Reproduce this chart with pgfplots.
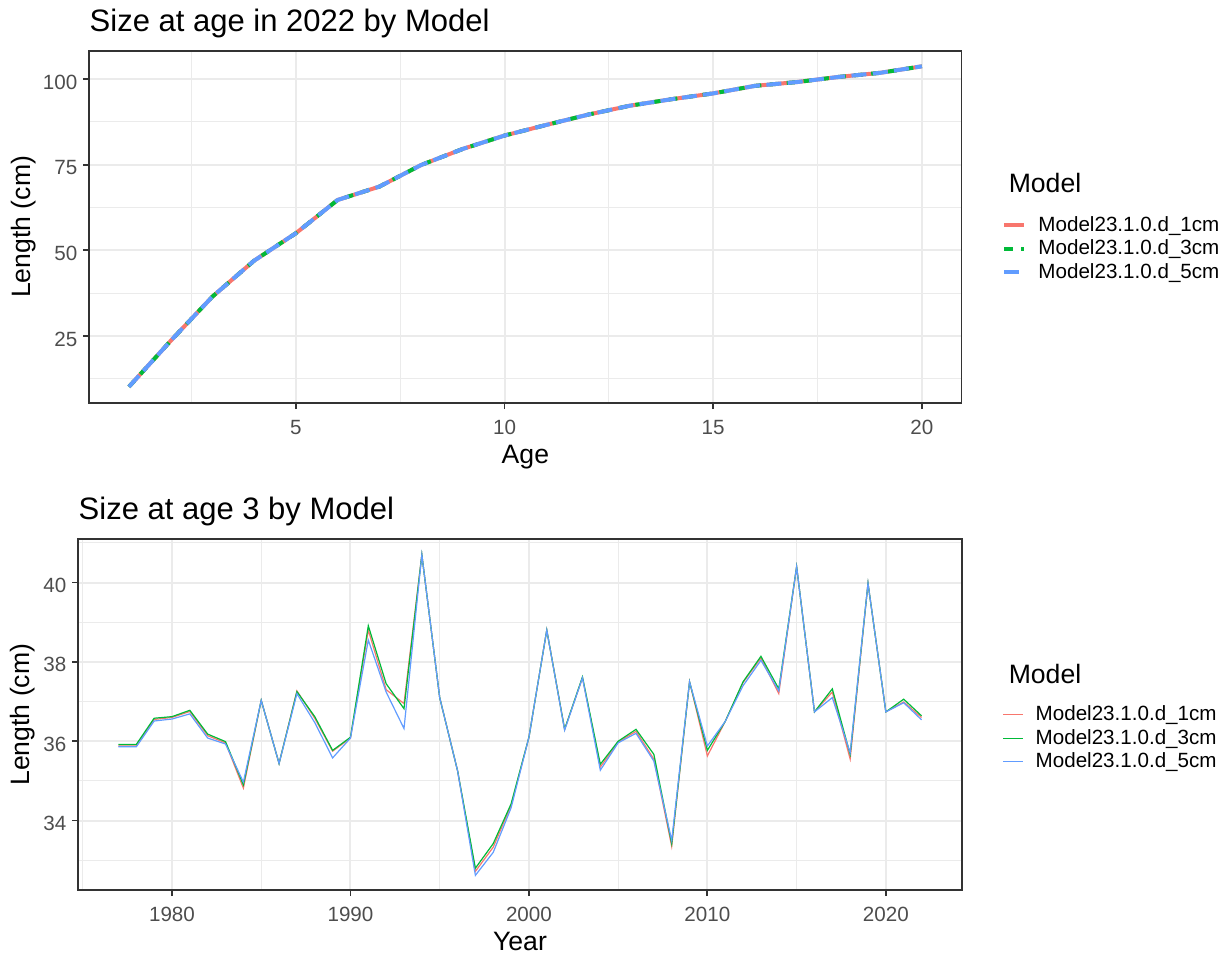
\documentclass[border=0pt]{standalone}
\usepackage{fontspec}
\setmainfont{Liberation Sans}
\usepackage{pgfplots}
\usepackage{pgfplotstable}
\pgfplotsset{compat=1.18}
\definecolor{c1}{HTML}{F8766D}
\definecolor{c2}{HTML}{00BA38}
\definecolor{c3}{HTML}{619CFF}
\definecolor{gridc}{HTML}{EBEBEB}
\definecolor{axc}{HTML}{333333}
\definecolor{tickc}{HTML}{4D4D4D}

\pgfplotstableread{
age m1 m3 m5
1 10.2 10.2 10.2
2 23.6 23.6 23.6
3 36.5 36.5 36.5
4 47.0 47.0 47.0
5 55.0 55.0 55.0
6 64.7 64.7 64.7
7 68.6 68.6 68.6
8 74.9 74.9 74.9
9 79.6 79.6 79.6
10 83.5 83.5 83.5
11 86.6 86.6 86.6
12 89.6 89.6 89.6
13 92.2 92.2 92.2
14 94.1 94.1 94.1
15 95.8 95.8 95.8
16 98.0 98.0 98.0
17 99.1 99.1 99.1
18 100.6 100.6 100.6
19 101.8 101.8 101.8
20 103.7 103.7 103.7
}\topdata

\pgfplotstableread{
year m1 m3 m5
1977 35.88 35.92 35.86
1978 35.88 35.92 35.86
1979 36.55 36.58 36.51
1980 36.60 36.62 36.56
1981 36.75 36.78 36.69
1982 36.14 36.18 36.08
1983 35.96 35.99 35.93
1984 34.82 34.90 34.97
1985 37.03 37.03 37.03
1986 35.44 35.44 35.44
1987 37.27 37.25 37.20
1988 36.58 36.62 36.47
1989 35.75 35.77 35.58
1990 36.08 36.10 36.08
1991 38.80 38.91 38.55
1992 37.30 37.45 37.24
1993 36.95 36.82 36.32
1994 40.70 40.70 40.70
1995 37.10 37.10 37.10
1996 35.26 35.26 35.26
1997 32.72 32.80 32.62
1998 33.33 33.42 33.20
1999 34.38 34.42 34.32
2000 36.10 36.10 36.10
2001 38.80 38.80 38.80
2002 36.30 36.30 36.28
2003 37.60 37.62 37.60
2004 35.35 35.42 35.27
2005 35.98 36.00 35.96
2006 36.25 36.30 36.20
2007 35.55 35.67 35.50
2008 33.35 33.42 33.50
2009 37.50 37.50 37.50
2010 35.63 35.77 35.88
2011 36.50 36.50 36.50
2012 37.48 37.50 37.40
2013 38.10 38.14 38.04
2014 37.20 37.32 37.27
2015 40.40 40.40 40.40
2016 36.74 36.74 36.74
2017 37.24 37.32 37.10
2018 35.55 35.67 35.71
2019 39.98 39.98 39.98
2020 36.74 36.74 36.74
2021 36.99 37.06 36.97
2022 36.60 36.64 36.54
}\botdata

\pgfplotsset{ggstyle/.style={
  scale only axis,
  axis line style={axc, line width=0.9pt},
  tick align=outside, tick pos=left,
  major tick length=3pt, minor tick length=0pt,
  every tick/.style={axc, line width=0.9pt},
  grid=both,
  major grid style={gridc, line width=1pt},
  minor grid style={gridc, line width=0.5pt},
  ticklabel style={font=\fontsize{10.3}{12}\selectfont, text=tickc, inner sep=0pt},
  xticklabel style={anchor=base, yshift=-12.65pt},
  yticklabel style={anchor=base east, xshift=-2.8pt, yshift=-5pt},
  /pgf/number format/assume math mode=true,
  /pgf/number format/1000 sep={},
  label style={font=\fontsize{13.3}{15}\selectfont, text=black},
  xlabel style={at={(axis description cs:0.5,0)}, anchor=base, yshift=-30.15pt},
  every axis title shift=0pt,
  title style={font=\fontsize{15.5}{18}\selectfont, anchor=base west, inner sep=0pt, at={(axis description cs:0,1)}, yshift=9.7pt},
  legend cell align=left,
  legend style={draw=none, fill=none, inner sep=0pt, font=\fontsize{10.3}{12}\selectfont,
    nodes={inner sep=0pt, text height=8pt, text depth=2pt}, row sep=1.85pt, column sep=6pt},
  legend image code/.code={\draw[#1] (0pt,0pt) -- (10pt,0pt);},
}}

\begin{document}
\begin{tikzpicture}
\useasboundingbox (0,0) rectangle (615pt,-478.5pt);
\begin{axis}[ggstyle,
  at={(44.65pt,-25.35pt)}, anchor=north west,
  width=436.1pt, height=176.15pt,
  xmin=0.05, xmax=20.95, ymin=5.46, ymax=108.26,
  xtick={5,10,15,20}, ytick={25,50,75,100},
  minor xtick={2.5,7.5,12.5,17.5}, minor ytick={12.5,37.5,62.5,87.5},
  title={Size at age in 2022 by Model},
  xlabel={Age}, ylabel={Length (cm)},
  ylabel style={at={(axis description cs:-0.0755,0.5)}, anchor=center},
  legend style={at={(axis description cs:1.0465,0.5345)}, anchor=north west},
]
\addplot[c1, line width=2pt] table[x=age, y=m1] {\topdata};
\addlegendentry{Model23.1.0.d\_1cm}
\addplot[c2, line width=2pt, dash pattern=on 4.25pt off 4.25pt] table[x=age, y=m3] {\topdata};
\addlegendentry{Model23.1.0.d\_3cm}
\addplot[c3, line width=2pt, dash pattern=on 7.5pt off 3.2pt] table[x=age, y=m5] {\topdata};
\addlegendentry{Model23.1.0.d\_5cm}
\end{axis}

\begin{axis}[ggstyle,
  at={(39.15pt,-269.65pt)}, anchor=north west,
  width=441.7pt, height=175.35pt,
  xmin=1974.75, xmax=2024.25, ymin=32.25, ymax=41.09,
  xtick={1980,1990,2000,2010,2020}, ytick={34,36,38,40},
  minor xtick={1975,1985,1995,2005,2015}, minor ytick={33,35,37,39,41},
  title={Size at age 3 by Model},
  xlabel={Year}, ylabel={Length (cm)},
  ylabel style={at={(axis description cs:-0.0635,0.5)}, anchor=center},
  legend style={at={(axis description cs:1.0457,0.5304)}, anchor=north west},
]
\addplot[c1, line width=0.6pt] table[x=year, y=m1] {\botdata};
\addlegendentry{Model23.1.0.d\_1cm}
\addplot[c2, line width=0.6pt] table[x=year, y=m3] {\botdata};
\addlegendentry{Model23.1.0.d\_3cm}
\addplot[c3, line width=0.6pt] table[x=year, y=m5] {\botdata};
\addlegendentry{Model23.1.0.d\_5cm}
\end{axis}

\node[anchor=base west, font=\fontsize{13.3}{15}\selectfont] at (500.85pt,-96.5pt) {Model};
\node[anchor=base west, font=\fontsize{13.3}{15}\selectfont] at (500.85pt,-341.5pt) {Model};
\end{tikzpicture}
\end{document}
